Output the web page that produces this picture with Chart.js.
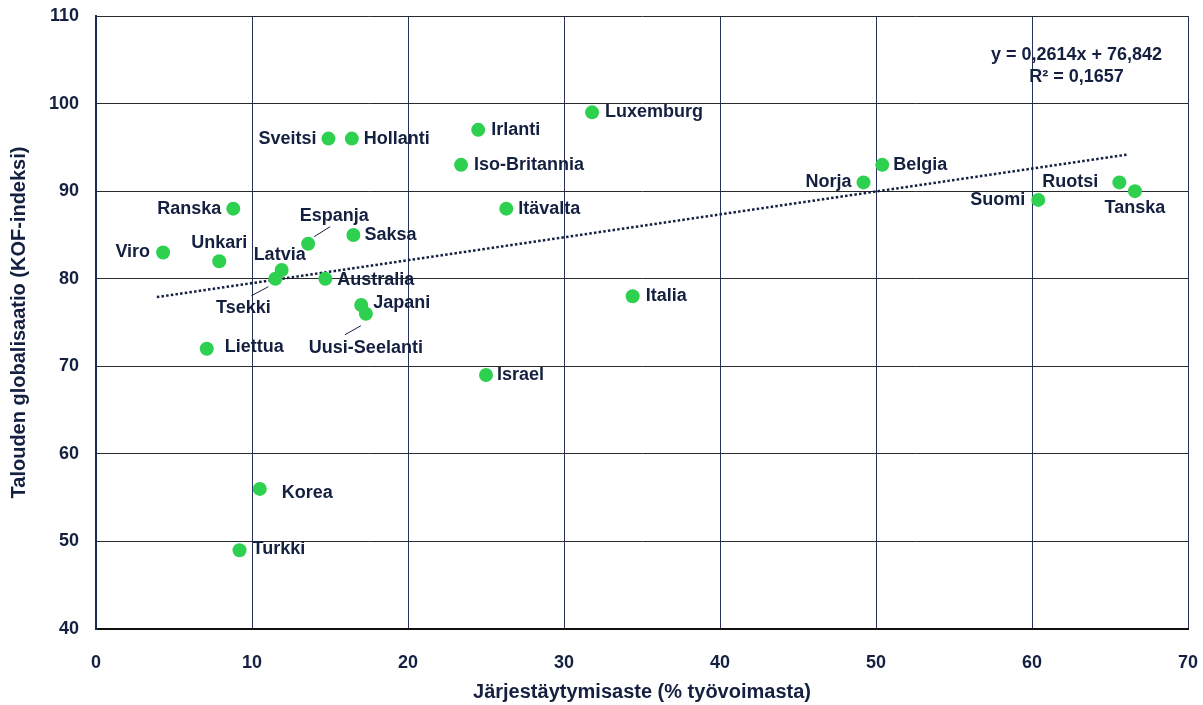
<!DOCTYPE html>
<html lang="fi">
<head>
<meta charset="UTF-8">
<title>Järjestäytymisaste ja talouden globalisaatio</title>
<script src="https://cdn.jsdelivr.net/npm/chart.js@4.4.0"></script>
<style>
    html, body { margin: 0; padding: 0; background: #ffffff; }
    #wrap { width: 1203px; height: 705px; }
</style>
</head>
<body>
<div id="wrap"><canvas id="kofChart" width="1203" height="705"></canvas></div>
<script>
// maat ja arvot (luettu kuvasta)
const countries = ['Viro', 'Unkari', 'Ranska', 'Liettua', 'Korea', 'Turkki', 'Tsekki', 'Latvia',
    'Espanja', 'Australia', 'Saksa', 'Sveitsi', 'Hollanti', 'Japani', 'Uusi-Seelanti', 'Irlanti',
    'Iso-Britannia', 'Itävalta', 'Israel', 'Luxemburg', 'Italia', 'Norja', 'Belgia', 'Suomi',
    'Ruotsi', 'Tanska'];
const unionRate = [4.3, 7.9, 8.8, 7.1, 10.5, 9.2, 11.5, 11.9, 13.6, 14.7, 16.5, 14.9, 16.4, 17.0,
    17.3, 24.5, 23.4, 26.3, 25.0, 31.8, 34.4, 49.2, 50.4, 60.4, 65.6, 66.6];
const kofIndex = [83, 82, 88, 72, 56, 49, 80, 81, 84, 80, 85, 96, 96, 77, 76, 97, 93, 88, 69, 99,
    78, 91, 93, 89, 91, 90];

// trendiviivan päätepisteet
const trendX = [3.9, 66.2];
const trendY = [77.9, 94.2];
const trendText = ['y = 0,2614x + 76,842', 'R² = 0,1657'];

const xTicks = [0, 10, 20, 30, 40, 50, 60, 70];
const yTicks = [40, 50, 60, 70, 80, 90, 100, 110];

const NAVY = '#14203f';
const GREEN = '#2dd04f';
const FONT = '"Liberation Sans", Arial, sans-serif';

// nimien sijoittelu pisteen suhteen (px)
const labelPos = {
    'Viro': [-13, 0, 'right'],
    'Unkari': [0, -18, 'center'],
    'Ranska': [-12, 0, 'right'],
    'Liettua': [18, -2, 'left'],
    'Korea': [22, 4, 'left'],
    'Turkki': [13, -1, 'left'],
    'Tsekki': [-32, 29, 'center'],
    'Latvia': [-2, -15, 'center'],
    'Espanja': [26, -28, 'center'],
    'Australia': [12, 1, 'left'],
    'Saksa': [11, 0, 'left'],
    'Sveitsi': [-12, 0, 'right'],
    'Hollanti': [12, 0, 'left'],
    'Japani': [12, -2, 'left'],
    'Uusi-Seelanti': [0, 34, 'center'],
    'Irlanti': [13, 0, 'left'],
    'Iso-Britannia': [13, 0, 'left'],
    'Itävalta': [12, 0, 'left'],
    'Israel': [11, 0, 'left'],
    'Luxemburg': [13, 0, 'left'],
    'Italia': [13, 0, 'left'],
    'Norja': [-12, 0, 'right'],
    'Belgia': [11, 0, 'left'],
    'Suomi': [-13, 0, 'right'],
    'Ruotsi': [-21, 0, 'right'],
    'Tanska': [0, 17, 'center']
};
const leaders = {
    'Tsekki': [-7, 8, -24, 17],
    'Espanja': [6, -7, 22, -17],
    'Uusi-Seelanti': [-5, 12, -21, 21]
};

const labelPlugin = {
    id: 'countryLabels',
    afterDatasetsDraw(chart) {
        const ctx = chart.ctx;
        const meta = chart.getDatasetMeta(0);
        ctx.save();
        ctx.font = 'bold 18px ' + FONT;
        ctx.fillStyle = NAVY;
        ctx.strokeStyle = NAVY;
        ctx.lineWidth = 1;
        ctx.textBaseline = 'middle';
        meta.data.forEach((pt, i) => {
            const name = countries[i];
            const p = labelPos[name] || [12, 0, 'left'];
            ctx.textAlign = p[2];
            ctx.fillText(name, pt.x + p[0], pt.y + p[1]);
            const l = leaders[name];
            if (l) {
                ctx.beginPath();
                ctx.moveTo(pt.x + l[0], pt.y + l[1]);
                ctx.lineTo(pt.x + l[2], pt.y + l[3]);
                ctx.stroke();
            }
        });
        // yhtälö
        const xs = chart.scales.x, ys = chart.scales.y;
        const cx = xs.getPixelForValue(62.85);
        ctx.textAlign = 'center';
        ctx.fillText(trendText[0], cx, ys.getPixelForValue(105.5));
        ctx.fillText(trendText[1], cx, ys.getPixelForValue(103.0));
        ctx.restore();
    }
};

// akselien mitat kiinteiksi, ei ylimääräistä reunatilaa
function fixX(s) {
    s.height = 76;
    s.paddingLeft = 0;
    s.paddingRight = 0;
}
function fixY(s) {
    s.width = 96;
    s.paddingTop = 0;
    s.paddingBottom = 0;
}

const config = {
    type: 'scatter',
    data: {
        datasets: [
            {
                label: 'Maat',
                data: countries.map((c, i) => ({ x: unionRate[i], y: kofIndex[i] })),
                backgroundColor: GREEN,
                borderWidth: 0,
                pointRadius: 7,
                order: 1
            },
            {
                type: 'line',
                label: 'Trendi',
                data: trendX.map((x, i) => ({ x: x, y: trendY[i] })),
                borderColor: NAVY,
                borderWidth: 2.5,
                borderDash: [2.5, 2.2],
                pointRadius: 0,
                fill: false,
                order: 2
            }
        ]
    },
    options: {
        responsive: false,
        animation: false,
        layout: { padding: { top: 16, right: 15, left: 0, bottom: 0 } },
        plugins: {
            legend: { display: false },
            tooltip: { enabled: false }
        },
        scales: {
            x: {
                type: 'linear',
                min: 0,
                max: 70,
                afterBuildTicks: (s) => { s.ticks = xTicks.map(v => ({ value: v })); },
                afterFit: fixX,
                grid: { color: '#27325a', lineWidth: 1, drawTicks: false },
                border: { color: '#111111', width: 2 },
                ticks: {
                    padding: 23,
                    color: NAVY,
                    font: { family: FONT, size: 18, weight: 'bold' }
                },
                title: {
                    display: true,
                    text: 'Järjestäytymisaste (% työvoimasta)',
                    color: NAVY,
                    font: { family: FONT, size: 20, weight: 'bold' },
                    padding: { top: 0, bottom: 1 }
                }
            },
            y: {
                type: 'linear',
                min: 40,
                max: 110,
                afterBuildTicks: (s) => { s.ticks = yTicks.map(v => ({ value: v })); },
                afterFit: fixY,
                grid: { color: '#2a2a2a', lineWidth: 1, drawTicks: false },
                border: { color: '#1e2a4f', width: 2 },
                ticks: {
                    padding: 17,
                    color: NAVY,
                    font: { family: FONT, size: 18, weight: 'bold' }
                },
                title: {
                    display: true,
                    text: 'Talouden globalisaatio (KOF-indeksi)',
                    color: NAVY,
                    font: { family: FONT, size: 20, weight: 'bold' },
                    padding: { top: 7, bottom: 0 }
                }
            }
        }
    },
    plugins: [labelPlugin]
};

new Chart(document.getElementById('kofChart').getContext('2d'), config);
</script>
</body>
</html>
